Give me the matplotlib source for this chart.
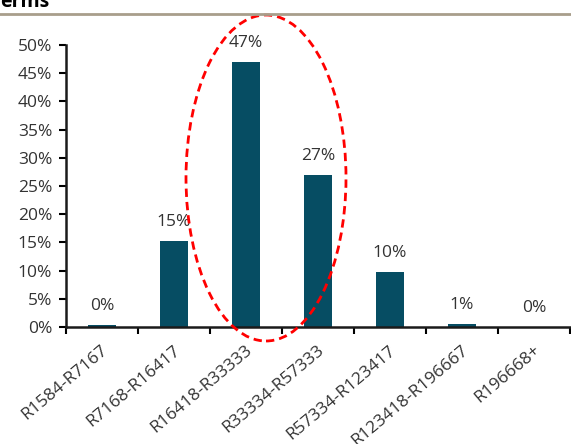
import matplotlib.pyplot as plt
import matplotlib.transforms as mtransforms
from matplotlib.patches import Ellipse
from matplotlib.lines import Line2D

plt.rcParams['font.family'] = ['Open Sans', 'DejaVu Sans']

bands = ["R1584-R7167", "R7168-R16417", "R16418-R33333", "R33334-R57333",
         "R57334-R123417", "R123418-R196667", "R196668+"]
shares = [0.4, 15.3, 47.0, 27.0, 9.7, 0.6, 0.0]
labels = ["0%", "15%", "47%", "27%", "10%", "1%", "0%"]

bar_color = '#064d63'
text_color = '#333333'
fs = 12.5

fig = plt.figure(figsize=(5.71, 4.44), dpi=100)
ax = fig.add_axes([66 / 571, 1 - 327 / 444, 504 / 571, 282 / 444])

x = range(len(bands))
ax.bar(x, shares, width=0.4, color=bar_color)

for i, (v, lab) in enumerate(zip(shares, labels)):
    ax.annotate(lab, (i, v), xytext=(0, 8), textcoords='offset points',
                ha='center', va='bottom', fontsize=fs, color=text_color)

ax.set_xlim(-0.5, len(bands) - 0.5)
ax.set_ylim(0, 50)
ax.set_yticks(range(0, 51, 5))
ax.set_yticklabels([f"{t}%" for t in range(0, 51, 5)], fontsize=fs, color=text_color)

# category boundaries get the ticks, names sit under the bars
ax.set_xticks([i - 0.5 for i in range(len(bands) + 1)])
ax.set_xticklabels([])
ax.set_xticks(list(x), minor=True)
ax.set_xticklabels(bands, minor=True, rotation=40, ha='right', va='top',
                   fontsize=fs, color=text_color)
ax.tick_params(axis='x', which='minor', length=0, pad=11)
ax.tick_params(axis='x', which='major', length=5, width=1.5, direction='out')
ax.tick_params(axis='y', length=5, width=1.5, direction='out', pad=5)

# nudge the rotated names a little to the right
shift = mtransforms.ScaledTranslation(9 / 100, 0, fig.dpi_scale_trans)
for t in ax.get_xticklabels(minor=True):
    t.set_transform(t.get_transform() + shift)

for side in ('top', 'right'):
    ax.spines[side].set_visible(False)
for side in ('left', 'bottom'):
    ax.spines[side].set_linewidth(1.8)
    ax.spines[side].set_color('#1a1a1a')

# header strip
fig.text(0.0, 1 - 7 / 444, "erms", fontsize=14, fontweight='bold',
         ha='left', va='baseline', color='black')
fig.add_artist(Line2D([0, 1], [1 - 14 / 444, 1 - 14 / 444], transform=fig.transFigure,
                      color='#a89e8b', linewidth=2))

# highlight of the two middle bands
fig.add_artist(Ellipse((266 / 571, 1 - 178 / 444), 160 / 571, 326 / 444,
                       transform=fig.transFigure, fill=False, edgecolor='#ff0000',
                       linestyle=(0, (3, 1.8)), linewidth=2))

fig.savefig('out.png', dpi=100)
